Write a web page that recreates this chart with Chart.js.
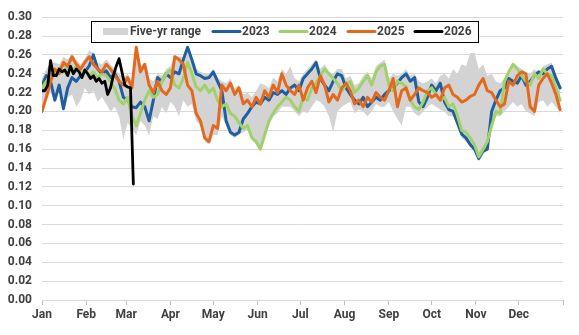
<!DOCTYPE html>
<html>
<head>
<meta charset="utf-8">
<script src="https://cdn.jsdelivr.net/npm/chart.js@4"></script>
<style>
html,body{margin:0;padding:0;background:#fff;}
#c{display:block;}
</style>
</head>
<body>
<canvas id="c" width="579" height="335"></canvas>
<script>
// ---- data (day-of-year step 3 for 2023-2025 & range; step 2 for 2026) ----
const monthLabels = ['Jan','Feb','Mar','Apr','May','Jun','Jul','Aug','Sep','Oct','Nov','Dec',''];
const monthStartDays = [0,31,59,90,120,151,181,212,243,273,304,334,365];
const yTickLabels = ['0.00','0.02','0.04','0.06','0.08','0.10','0.12','0.14','0.16','0.18','0.20','0.22','0.24','0.26','0.28','0.30'];
const seriesNames = ['Five-yr range','2023','2024','2025','2026'];

const rangeMax = [0.235,0.245,0.250,0.252,0.250,0.258,0.255,0.262,0.255,0.250,0.256,0.265,0.262,0.252,0.250,0.255,0.250,0.245,0.240,0.236,
0.240,0.232,0.270,0.248,0.252,0.235,0.232,0.240,0.238,0.245,0.248,0.260,0.258,0.258,0.270,0.258,0.245,0.242,0.240,0.240,
0.245,0.236,0.232,0.230,0.235,0.225,0.228,0.218,0.220,0.215,0.222,0.230,0.228,0.225,0.236,0.232,0.245,0.240,0.248,0.235,
0.232,0.240,0.245,0.250,0.255,0.245,0.250,0.242,0.240,0.245,0.245,0.235,0.238,0.228,0.230,0.238,0.242,0.235,0.248,0.252,
0.255,0.235,0.240,0.238,0.240,0.245,0.238,0.240,0.232,0.230,0.232,0.235,0.230,0.238,0.240,0.235,0.245,0.240,0.250,0.248,
0.262,0.262,0.245,0.250,0.238,0.240,0.232,0.230,0.235,0.242,0.252,0.248,0.245,0.242,0.240,0.245,0.240,0.248,0.250,0.252,
0.240,0.230];
const rangeMin = [0.200,0.212,0.220,0.210,0.222,0.200,0.215,0.218,0.205,0.212,0.225,0.218,0.222,0.210,0.215,0.208,0.200,0.205,0.195,0.170,
0.188,0.182,0.175,0.190,0.185,0.175,0.195,0.192,0.205,0.198,0.210,0.205,0.195,0.212,0.205,0.208,0.190,0.185,0.168,0.165,
0.175,0.175,0.195,0.185,0.175,0.172,0.175,0.178,0.180,0.170,0.165,0.158,0.172,0.185,0.195,0.198,0.205,0.205,0.205,0.200,
0.195,0.200,0.198,0.205,0.212,0.210,0.205,0.195,0.178,0.200,0.205,0.208,0.210,0.198,0.202,0.200,0.195,0.200,0.208,0.205,
0.205,0.210,0.200,0.192,0.185,0.205,0.205,0.198,0.195,0.200,0.205,0.208,0.205,0.202,0.200,0.195,0.195,0.185,0.172,0.168,
0.162,0.158,0.148,0.155,0.158,0.180,0.195,0.195,0.200,0.205,0.210,0.205,0.208,0.200,0.198,0.195,0.210,0.212,0.205,0.210,
0.205,0.198];
const y2023 = [0.228,0.238,0.232,0.212,0.228,0.203,0.225,0.236,0.232,0.238,0.242,0.248,0.260,0.245,0.240,0.243,0.236,0.240,0.232,0.215,
0.212,0.205,0.204,0.210,0.205,0.190,0.212,0.236,0.232,0.240,0.236,0.242,0.240,0.255,0.268,0.255,0.240,0.238,0.235,0.236,
0.242,0.232,0.222,0.190,0.178,0.175,0.178,0.192,0.198,0.205,0.210,0.208,0.215,0.212,0.220,0.218,0.222,0.218,0.225,0.228,
0.222,0.235,0.240,0.245,0.252,0.235,0.228,0.222,0.232,0.240,0.238,0.225,0.218,0.212,0.208,0.215,0.205,0.210,0.215,0.212,
0.218,0.222,0.225,0.230,0.236,0.240,0.232,0.236,0.210,0.205,0.215,0.228,0.222,0.230,0.210,0.202,0.200,0.188,0.176,0.172,
0.165,0.160,0.150,0.158,0.160,0.200,0.212,0.222,0.225,0.235,0.232,0.230,0.238,0.228,0.232,0.238,0.242,0.240,0.245,0.248,
0.235,0.225];
const y2024 = [0.225,0.232,0.238,0.240,0.245,0.250,0.246,0.242,0.248,0.240,0.244,0.238,0.242,0.236,0.240,0.238,0.232,0.224,0.212,0.208,
0.215,0.195,0.185,0.198,0.212,0.222,0.215,0.218,0.232,0.240,0.244,0.228,0.225,0.235,0.252,0.240,0.226,0.222,0.228,0.220,
0.225,0.212,0.205,0.208,0.198,0.195,0.188,0.182,0.185,0.172,0.168,0.160,0.175,0.190,0.198,0.205,0.210,0.215,0.212,0.205,
0.200,0.215,0.212,0.225,0.230,0.238,0.245,0.240,0.235,0.230,0.222,0.228,0.232,0.220,0.225,0.232,0.238,0.228,0.242,0.248,
0.250,0.228,0.222,0.232,0.230,0.226,0.212,0.205,0.202,0.210,0.222,0.225,0.218,0.212,0.215,0.205,0.208,0.196,0.180,0.178,
0.172,0.165,0.152,0.160,0.168,0.185,0.200,0.198,0.232,0.242,0.250,0.245,0.238,0.232,0.228,0.240,0.235,0.245,0.240,0.238,
0.225,0.212];
const y2025 = [0.200,0.215,0.232,0.245,0.240,0.252,0.248,0.258,0.250,0.245,0.252,0.258,0.250,0.245,0.242,0.250,0.245,0.238,0.232,0.228,
0.236,0.225,0.268,0.242,0.250,0.228,0.220,0.232,0.222,0.218,0.225,0.258,0.255,0.250,0.228,0.222,0.198,0.190,0.172,0.168,
0.185,0.182,0.228,0.222,0.230,0.218,0.225,0.208,0.212,0.205,0.215,0.208,0.222,0.215,0.228,0.220,0.240,0.228,0.222,0.218,
0.228,0.212,0.225,0.232,0.220,0.238,0.228,0.210,0.218,0.212,0.225,0.230,0.222,0.208,0.212,0.205,0.215,0.210,0.220,0.215,
0.212,0.222,0.235,0.205,0.222,0.225,0.212,0.218,0.225,0.222,0.220,0.215,0.218,0.212,0.225,0.228,0.218,0.215,0.210,0.212,
0.216,0.218,0.228,0.235,0.222,0.220,0.212,0.205,0.208,0.232,0.228,0.238,0.242,0.240,0.205,0.200,0.228,0.235,0.240,0.230,
0.218,0.202];
const y2026 = [0.222,0.222,0.228,0.254,0.238,0.238,0.245,0.242,0.244,0.238,0.248,0.240,0.245,0.242,0.236,0.244,0.240,0.235,0.238,0.232,
0.235,0.230,0.232,0.218,0.225,0.238,0.248,0.256,0.242,0.228,0.226,0.225,0.123];

const STEP = 3, STEP26 = 2;
const toPts = (arr, step) => arr.map((v, i) => ({x: i * step, y: v}));

const FONT = 'Roboto, "Liberation Sans", Arial, sans-serif';
const TXT = '#404040';
const COLORS = {band:'#d3d3d3', y2023:'#1f5f9f', y2024:'#a2d06a', y2025:'#e4691e', y2026:'#000000'};

const legendPlugin = {
  id: 'boxLegend',
  afterDraw(chart) {
    const ctx = chart.ctx;
    ctx.save();
    ctx.fillStyle = '#fff';
    ctx.fillRect(91, 21, 387, 21);
    ctx.strokeStyle = '#000';
    ctx.lineWidth = 1;
    ctx.strokeRect(91.5, 21.5, 387, 21);
    const cy = 31.5;
    ctx.font = 'bold 12px ' + FONT;
    ctx.fillStyle = TXT;
    ctx.textBaseline = 'middle';
    ctx.textAlign = 'left';
    ctx.fillStyle = COLORS.band;
    ctx.fillRect(103, cy - 3.5, 25, 7);
    ctx.fillStyle = TXT;
    ctx.fillText(seriesNames[0], 130, cy);
    const items = [
      [COLORS.y2023, 213, seriesNames[1]],
      [COLORS.y2024, 280, seriesNames[2]],
      [COLORS.y2025, 348, seriesNames[3]],
      [COLORS.y2026, 415, seriesNames[4]],
    ];
    items.forEach(([col, x, label]) => {
      ctx.strokeStyle = col;
      ctx.lineWidth = 3;
      ctx.lineCap = 'round';
      ctx.beginPath();
      ctx.moveTo(x, cy);
      ctx.lineTo(x + 27, cy);
      ctx.stroke();
      ctx.fillStyle = TXT;
      ctx.fillText(label, x + 29, cy);
    });
    ctx.restore();
  }
};

const lineDs = (label, arr, step, color, order, width) => ({
  label, data: toPts(arr, step), borderColor: color, backgroundColor: color,
  borderWidth: width, pointRadius: 0, tension: 0, fill: false, order,
  borderJoinStyle: 'round', borderCapStyle: 'round'
});

new Chart(document.getElementById('c'), {
  type: 'line',
  data: {
    datasets: [
      {label: 'min', data: toPts(rangeMin, STEP), borderWidth: 0, borderColor: 'rgba(0,0,0,0)', pointRadius: 0, fill: false, order: 11, tension: 0},
      {label: seriesNames[0], data: toPts(rangeMax, STEP), borderWidth: 0, borderColor: 'rgba(0,0,0,0)', backgroundColor: COLORS.band, pointRadius: 0, fill: '-1', order: 10, tension: 0},
      lineDs(seriesNames[1], y2023, STEP, COLORS.y2023, 4, 3),
      lineDs(seriesNames[2], y2024, STEP, COLORS.y2024, 3, 3),
      lineDs(seriesNames[3], y2025, STEP, COLORS.y2025, 2, 3),
      lineDs(seriesNames[4], y2026, STEP26, COLORS.y2026, 1, 2.8),
    ]
  },
  options: {
    responsive: false,
    animation: false,
    devicePixelRatio: 1,
    layout: {padding: {top: 13, right: 16, left: 0, bottom: 0}},
    plugins: {legend: {display: false}, tooltip: {enabled: false}},
    scales: {
      x: {
        type: 'linear', min: 0, max: 365,
        afterBuildTicks: (s) => { s.ticks = monthStartDays.map(v => ({value: v})); },
        afterFit: (s) => { s.height = 35; },
        grid: {display: true, drawOnChartArea: false, drawTicks: true, tickLength: 5, color: '#bfbfbf'},
        border: {display: false},
        ticks: {
          autoSkip: false, maxRotation: 0, padding: 3,
          font: {family: FONT, size: 12, weight: 'bold'}, color: TXT,
          callback: (v) => monthLabels[monthStartDays.indexOf(v)]
        }
      },
      y: {
        min: 0, max: 0.30,
        afterBuildTicks: (s) => { s.ticks = yTickLabels.map(t => ({value: parseFloat(t)})); },
        afterFit: (s) => { s.width = 42; },
        grid: {color: '#d9d9d9', drawTicks: false, lineWidth: 1},
        border: {display: false},
        ticks: {
          padding: 10, autoSkip: false,
          font: {family: FONT, size: 12, weight: 'bold'}, color: TXT,
          callback: (v, i) => yTickLabels[i]
        }
      }
    }
  },
  plugins: [legendPlugin]
});
</script>
</body>
</html>
